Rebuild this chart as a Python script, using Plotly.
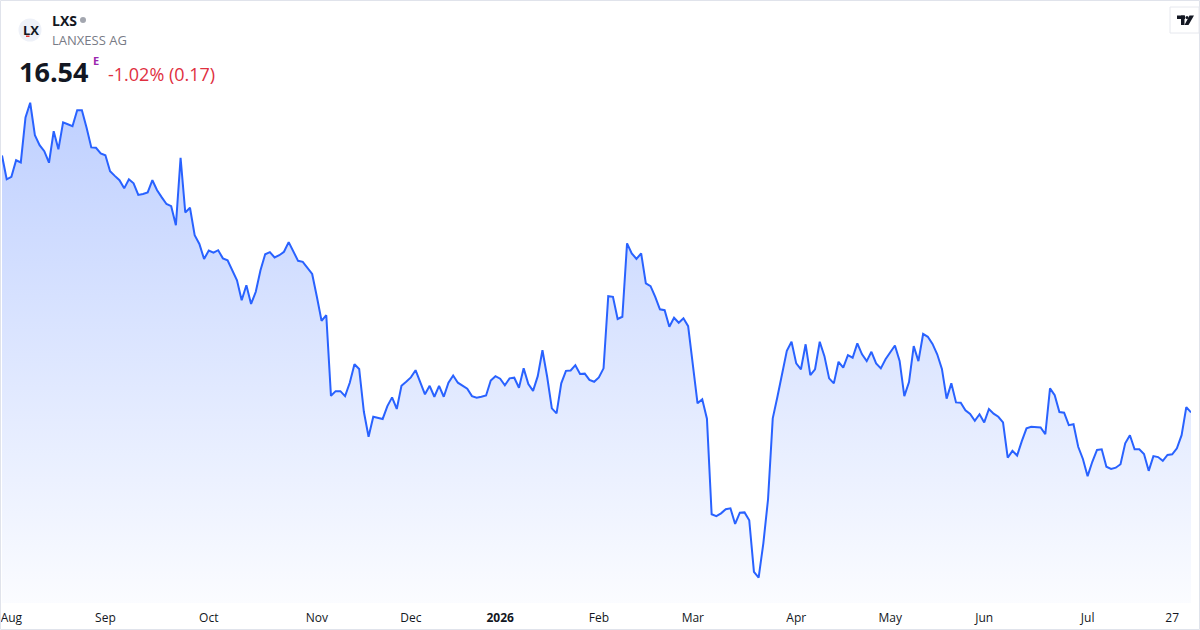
import pandas as pd
import plotly.graph_objects as go

# ── Daten ─────────────────────────────────────────────────────────────────────

TICKER = "LXS"
COMPANY = "LANXESS AG"
LAST_PRICE = "16.54"
CHANGE_TEXT = "-1.02% (0.17)"

# Xetra-Feiertage im Zeitraum (kein Handel)
HOLIDAYS = [
    "2025-12-24", "2025-12-25", "2025-12-26", "2025-12-31",
    "2026-01-01", "2026-04-03", "2026-04-06", "2026-05-01",
]

CLOSE = [
    24.76, 24.00, 24.08, 24.61, 24.54, 25.98, 26.45, 25.41, 25.09, 24.90,
    24.53, 25.54, 24.96, 25.82, 25.76, 25.70, 26.21, 26.21, 25.65, 25.02,
    25.01, 24.83, 24.77, 24.26, 24.11, 23.97, 23.71, 24.00, 23.87, 23.50,
    23.53, 23.58, 23.97, 23.65, 23.42, 23.21, 23.14, 22.53, 24.69, 22.94,
    23.09, 22.21, 21.93, 21.45, 21.72, 21.65, 21.73, 21.47, 21.41, 21.07,
    20.77, 20.13, 20.61, 20.01, 20.40, 21.09, 21.60, 21.67, 21.50, 21.57,
    21.68, 21.99, 21.68, 21.39, 21.36, 21.17, 20.97, 20.24, 19.47, 19.65,
    17.07, 17.22, 17.22, 17.06, 17.49, 18.08, 17.93, 16.56, 15.76, 16.40,
    16.37, 16.33, 16.74, 17.02, 16.65, 17.39, 17.52, 17.66, 17.89, 17.52,
    17.12, 17.39, 17.04, 17.39, 17.04, 17.49, 17.72, 17.49, 17.40, 17.30,
    17.06, 17.01, 17.04, 17.08, 17.56, 17.70, 17.62, 17.41, 17.63, 17.65,
    17.33, 17.95, 17.45, 17.23, 17.70, 18.53, 17.68, 16.67, 16.51, 17.47,
    17.87, 17.88, 18.05, 17.77, 17.78, 17.58, 17.52, 17.66, 17.95, 20.26,
    20.24, 19.53, 19.60, 21.95, 21.63, 21.45, 21.63, 20.67, 20.58, 20.24,
    19.84, 19.81, 19.28, 19.57, 19.41, 19.55, 19.30, 18.11, 16.83, 16.96,
    16.34, 13.28, 13.22, 13.31, 13.44, 13.47, 12.97, 13.33, 13.34, 13.09,
    11.44, 11.25, 12.35, 13.76, 16.35, 17.04, 17.73, 18.51, 18.80, 18.11,
    17.92, 18.72, 17.73, 17.92, 18.80, 18.34, 17.63, 17.47, 18.16, 17.97,
    18.37, 18.29, 18.75, 18.40, 18.18, 18.48, 18.11, 17.95, 18.24, 18.45,
    18.68, 18.19, 17.06, 17.51, 18.66, 18.18, 19.05, 18.96, 18.73, 18.40,
    17.93, 16.98, 17.47, 16.86, 16.85, 16.61, 16.49, 16.27, 16.48, 16.22,
    16.65, 16.50, 16.40, 16.22, 15.09, 15.31, 15.16, 15.62, 16.03, 16.08,
    16.06, 16.06, 15.84, 17.31, 17.09, 16.55, 16.53, 16.13, 16.16, 15.44,
    15.05, 14.50, 14.96, 15.34, 15.36, 14.80, 14.73, 14.77, 14.88, 15.55,
    15.81, 15.36, 15.36, 15.21, 14.67, 15.14, 15.11, 14.99, 15.18, 15.20,
    15.39, 15.81, 16.71, 16.54,
]

TICK_DATES = [
    "2025-08-04", "2025-09-01", "2025-10-01", "2025-11-03", "2025-12-01",
    "2026-01-02", "2026-02-02", "2026-03-02", "2026-04-01", "2026-05-04",
    "2026-06-01", "2026-07-01", "2026-07-27",
]
TICK_LABELS = [
    "Aug", "Sep", "Oct", "Nov", "Dec", "<b>2026</b>", "Feb",
    "Mar", "Apr", "May", "Jun", "Jul", "27",
]

# ── Konstanten ────────────────────────────────────────────────────────────────

LINE_COLOR = "#2962FF"
TEXT_COLOR = "#131722"
MUTED = "#787B86"
RED = "#E0303F"
FONT = "Open Sans, Roboto, sans-serif"

W, H = 1200, 630
PLOT_L, PLOT_T, PLOT_R, PLOT_B = 2, 4, 1191, 603
Y_RANGE = [10.44, 29.61]

days = pd.bdate_range("2025-07-31", "2026-07-31")
days = days[~days.isin(pd.to_datetime(HOLIDAYS))]
dates = days.strftime("%Y-%m-%d").tolist()
assert len(dates) == len(CLOSE), (len(dates), len(CLOSE))


def px(x):
    """Pixel → paper (x)."""
    return (x - PLOT_L) / (PLOT_R - PLOT_L)


def py(y):
    """Pixel → paper (y)."""
    return 1 - (y - PLOT_T) / (PLOT_B - PLOT_T)


def box(x0, y0, x1, y1, color, kind="rect"):
    return dict(type=kind, xref="paper", yref="paper",
                x0=px(x0), x1=px(x1), y0=py(y1), y1=py(y0),
                line=dict(width=0), fillcolor=color)


# ── Figur ─────────────────────────────────────────────────────────────────────

fig = go.Figure()
fig.add_trace(go.Scatter(
    x=dates,
    y=CLOSE,
    mode="lines",
    line=dict(color=LINE_COLOR, width=2),
    fill="tozeroy",
    fillgradient=dict(
        type="vertical",
        colorscale=[[0, "rgba(41,98,255,0.02)"], [1, "rgba(41,98,255,0.30)"]],
        start=Y_RANGE[0],
        stop=max(CLOSE),
    ),
    hoverinfo="x+y",
))

shapes = [
    # Rahmen
    dict(type="rect", xref="paper", yref="paper",
         x0=px(0.5), x1=px(1199.5), y0=py(629.5), y1=py(0.5),
         line=dict(color="#E0E3EB", width=1), fillcolor="rgba(0,0,0,0)"),
    # Logo
    box(18.5, 18.5, 41.5, 41.5, "#EEF1F8", kind="circle"),
    box(26, 35.5, 29.5, 37, "#E53935"),
    # Status-Punkt
    box(80, 17, 86, 23, "#A3A6AF", kind="circle"),
    # TV-Plakette
    dict(type="rect", xref="paper", yref="paper",
         x0=px(1170), x1=px(1199), y0=py(33), y1=py(7),
         line=dict(color="#E6E8EE", width=1), fillcolor="white"),
    box(1177, 15.5, 1185, 19, "#131722"),
    box(1181, 15.5, 1184.5, 25, "#131722"),
    box(1185.5, 16, 1188.5, 19, "#131722", kind="circle"),
    dict(type="path", xref="paper", yref="paper",
         path=(f"M {px(1189.5)},{py(15.5)} L {px(1194)},{py(15.5)} "
               f"L {px(1188.5)},{py(25)} L {px(1184.5)},{py(25)} Z"),
         line=dict(width=0), fillcolor="#131722"),
]

annotations = [
    dict(text="<b>LX</b>", x=px(30.5), y=py(29.5), xanchor="center",
         font=dict(size=13, color=TEXT_COLOR)),
    dict(text=f"<b>{TICKER}</b>", x=px(50), y=py(20), xanchor="left",
         font=dict(size=14, color=TEXT_COLOR)),
    dict(text=COMPANY, x=px(50), y=py(40), xanchor="left",
         font=dict(size=13, color=MUTED)),
    dict(text=f"<b>{LAST_PRICE}</b>", x=px(17), y=py(71), xanchor="left",
         font=dict(size=27, color=TEXT_COLOR)),
    dict(text="<b>E</b>", x=px(91), y=py(61), xanchor="left",
         font=dict(size=11, color="#9C27B0")),
    dict(text=CHANGE_TEXT, x=px(106), y=py(74), xanchor="left",
         font=dict(size=18, color=RED)),
]
for a in annotations:
    a.update(xref="paper", yref="paper", showarrow=False, yanchor="middle")

fig.update_layout(
    width=W,
    height=H,
    margin=dict(l=PLOT_L, r=W - PLOT_R, t=PLOT_T, b=H - PLOT_B),
    paper_bgcolor="white",
    plot_bgcolor="white",
    font=dict(family=FONT, color=TEXT_COLOR),
    showlegend=False,
    xaxis=dict(
        type="category",
        range=[0, len(dates) - 1],
        tickvals=TICK_DATES,
        ticktext=TICK_LABELS,
        showgrid=False, showline=False, zeroline=False, ticks="",
        ticklabelstandoff=6,
        tickfont=dict(size=12, color=TEXT_COLOR),
    ),
    yaxis=dict(range=Y_RANGE, visible=False),
    shapes=shapes,
    annotations=annotations,
)

fig.write_html(
    "out.html",
    config={"displayModeBar": False},
    post_script="document.body.style.margin='0';",
)
